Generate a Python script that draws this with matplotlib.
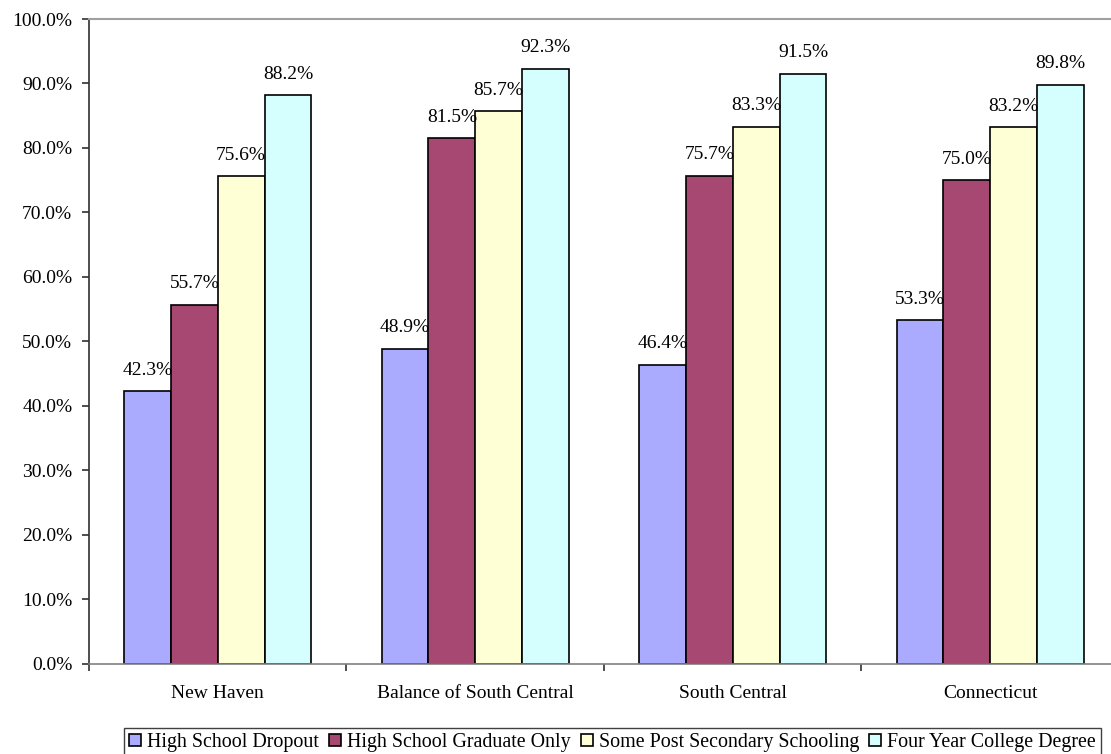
import matplotlib
matplotlib.use('Agg')
from matplotlib import pyplot as plt
from matplotlib.ticker import MultipleLocator, FuncFormatter
import numpy as np

regions = ['New Haven', 'Balance of South Central', 'South Central', 'Connecticut']
series = ['High School Dropout', 'High School Graduate Only',
          'Some Post Secondary Schooling', 'Four Year College Degree']
dropout = [42.3, 48.9, 46.4, 53.3]
hs_grad = [55.7, 81.5, 75.7, 75.0]
post_sec = [75.6, 85.7, 83.3, 83.2]
college = [88.2, 92.3, 91.5, 89.8]
colors = ['#AAAAFF', '#A64872', '#FFFFD5', '#D5FFFF']

plt.rcParams['font.family'] = ['Liberation Serif', 'DejaVu Serif']

fig = plt.figure(figsize=(11.11, 7.54), dpi=100)
ax = fig.add_axes([0.0801, 0.1194, 0.9271, 0.8554])

x = np.arange(len(regions))
w = 1 / 5.5
for i, (vals, name) in enumerate(zip([dropout, hs_grad, post_sec, college], series)):
    bars = ax.bar(x + (i - 1.5) * w, vals, width=w, color=colors[i],
                  edgecolor='black', linewidth=1.2, label=name, zorder=2)
    for b, v in zip(bars, vals):
        ax.annotate(f'{v:.1f}%', (b.get_x() + b.get_width() / 2, v),
                    xytext=(0, 9), textcoords='offset points',
                    ha='center', va='bottom', fontsize=14)

ax.set_xlim(-0.5, 3.5)
ax.set_ylim(0, 100)
ax.yaxis.set_major_locator(MultipleLocator(10))
ax.yaxis.set_major_formatter(FuncFormatter(lambda v, p: f'{v:.1f}%'))
ax.set_xticks(x)
ax.set_xticklabels(regions)
ax.set_xticks(np.arange(-0.5, 4.0, 1.0), minor=True)
ax.tick_params(axis='x', which='major', length=0, pad=15, labelsize=14)
ax.tick_params(axis='x', which='minor', length=5, width=1.2, color='#303030')
ax.tick_params(axis='y', length=5, width=1.2, color='#303030', pad=7, labelsize=14)

ax.spines['left'].set_color('#303030')
ax.spines['left'].set_linewidth(1.2)
ax.spines['bottom'].set_color('#808080')
ax.spines['bottom'].set_linewidth(1.2)
ax.spines['top'].set_color('#a0a0a0')
ax.spines['top'].set_linewidth(1.5)
ax.spines['right'].set_visible(False)

leg = ax.legend(loc='upper center', bbox_to_anchor=(0.5515, 0.0345),
                bbox_transform=fig.transFigure, ncol=4, fontsize=14.4,
                frameon=True, fancybox=False, framealpha=1, borderpad=0.25,
                handlelength=0.6, handleheight=0.6, handletextpad=0.3,
                columnspacing=0.5, borderaxespad=0)
leg.get_frame().set_edgecolor('#404040')
leg.get_frame().set_linewidth(1.0)

fig.savefig('out.png', dpi=100)
